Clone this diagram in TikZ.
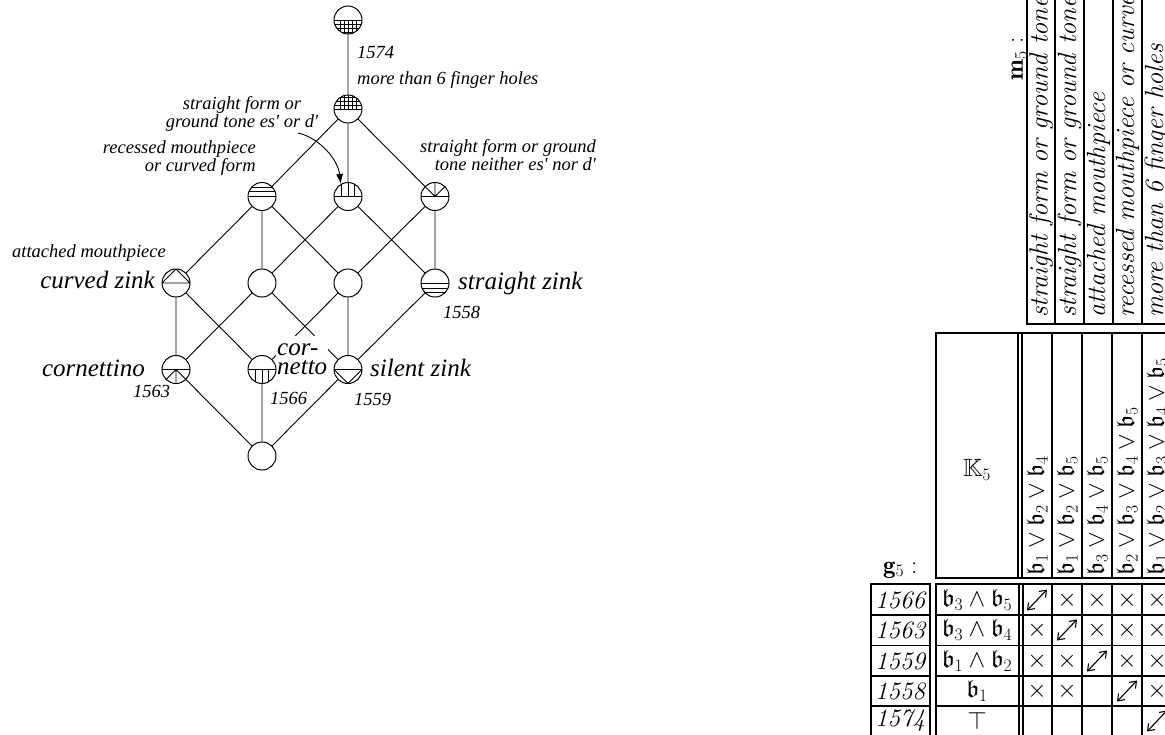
\documentclass[tikz,border=0pt]{standalone}
\usepackage{fix-cm}
\usepackage{amsmath,amssymb}
\usepackage{fontspec}
\newfontfamily\libser{Liberation Serif}
\usetikzlibrary{arrows.meta}
\pgfdeclarelayer{edgelayer}
\pgfdeclarelayer{labellayer}
\pgfsetlayers{edgelayer,labellayer,main}
\newcommand\inside[2]{\begin{scope}[shift={(#1.center)}]\clip (0,0) circle (14pt);#2\end{scope}}
\begin{document}
\begin{tikzpicture}[x=1pt,y=-1pt,
  cnode/.style={circle,draw,line width=1pt,minimum size=28pt,inner sep=0pt,fill=white},
  lnk/.style={line width=0.9pt},
  pat/.style={line width=0.9pt},
  lab/.style={font=\libser\itshape\fontsize{18.5}{16}\selectfont,inner sep=0pt},
  biglab/.style={font=\libser\itshape\fontsize{25}{19}\selectfont,inner sep=0pt},
  thk/.style={line width=2.2pt},
  thn/.style={line width=1.1pt},
  hdr/.style={rotate=90,anchor=west,inner sep=0pt,font=\itshape\fontsize{26.3}{30}\selectfont},
  fml/.style={rotate=90,anchor=west,inner sep=0pt,font=\fontsize{25}{30}\selectfont},
  cell/.style={inner sep=0pt,font=\fontsize{25}{30}\selectfont},
  yr/.style={inner sep=0pt,font=\itshape\fontsize{25}{30}\selectfont},
  dblarr/.style={line width=1.1pt,{Straight Barb[length=6pt,width=9pt]}-{Straight Barb[length=6pt,width=9pt]}}
]
\useasboundingbox (0,0) rectangle (1165,734);
\clip (0,0) rectangle (1165,734);
% ---------------- lattice nodes
\node[cnode] (top) at (348,20) {};
\node[cnode] (n2) at (348,109) {};
\node[cnode] (a) at (262,196.5) {};
\node[cnode] (b) at (348,196.5) {};
\node[cnode] (c) at (435,196.5) {};
\node[cnode] (cz) at (176,283) {};
\node[cnode] (m1) at (262,283) {};
\node[cnode] (m2) at (348,283) {};
\node[cnode] (sz) at (435,283) {};
\node[cnode] (ct) at (176,369.5) {};
\node[cnode] (co) at (262,369.5) {};
\node[cnode] (si) at (348,369.5) {};
\node[cnode] (bot) at (262,456) {};
% patterns
\inside{top}{\draw[pat] (-14,0)--(14,0);
  \foreach \v in {4,8,12} \draw[pat] (-14,\v)--(14,\v);
  \foreach \u in {-8,-4,0,4,8} \draw[pat] (\u,0)--(\u,14);}
\inside{n2}{\draw[pat] (-14,0)--(14,0);
  \foreach \v in {4,8,12} \draw[pat] (-14,-\v)--(14,-\v);
  \foreach \u in {-8,-4,0,4,8} \draw[pat] (\u,0)--(\u,-14);}
\inside{a}{\foreach \v in {0,5,9.5} \draw[pat] (-14,-\v)--(14,-\v);}
\inside{b}{\draw[pat] (-14,0)--(14,0);
  \foreach \u in {-6.5,0,6.5} \draw[pat] (\u,0)--(\u,-14);}
\inside{c}{\draw[pat] (-14,0)--(14,0) (0,0)--(0,-14) (0,0)--(-10,-10) (0,0)--(10,-10);}
\inside{cz}{\draw[pat] (-14,0)--(14,0) (-14,0)--(0,-14)--(14,0);}
\inside{sz}{\foreach \v in {0,5,9.5} \draw[pat] (-14,\v)--(14,\v);}
\inside{ct}{\draw[pat] (-14,0)--(14,0) (0,0)--(0,14) (0,0)--(-10,10) (0,0)--(10,10);}
\inside{co}{\draw[pat] (-14,0)--(14,0);
  \foreach \u in {-6.5,0,6.5} \draw[pat] (\u,0)--(\u,14);}
\inside{si}{\draw[pat] (-14,0)--(14,0) (-14,0)--(0,14)--(14,0);}
% edges
\begin{pgfonlayer}{edgelayer}
\draw[lnk] (top)--(n2) (n2)--(a) (n2)--(b) (n2)--(c)
  (a)--(cz) (a)--(m1) (a)--(m2) (b)--(m1) (b)--(sz) (c)--(m2) (c)--(sz)
  (cz)--(ct) (cz)--(co) (m1)--(ct) (m1)--(si) (m2)--(co) (m2)--(si) (sz)--(si)
  (ct)--(bot) (co)--(bot) (si)--(bot);
\end{pgfonlayer}
% labels
\node[lab,anchor=base west] (l1574) at (357,58) {1574};
\node[lab,anchor=base west] (lmore) at (357,84) {more than 6 finger holes};
\node[lab,anchor=north,align=center] (les) at (242,96) {straight form or\\ground tone es' or d'};
\node[lab,anchor=north east,align=right] (lrec) at (256,140) {recessed mouthpiece\\or curved form};
\node[lab,anchor=north east,align=right] (lnei) at (596,139) {straight form or ground\\tone neither es' nor d'};
\node[lab,anchor=base west] (latt) at (12,257) {attached mouthpiece};
\node[biglab,anchor=base east] (lcz) at (155,288) {curved zink};
\node[biglab,anchor=base west] (lsz) at (458,289) {straight zink};
\node[lab,anchor=base west] (l1558) at (443,318) {1558};
\node[biglab,anchor=base east] (lct) at (145,376) {cornettino};
\node[lab,anchor=base west] (l1563) at (133,397) {1563};
\begin{pgfonlayer}{labellayer}
\node[biglab,fill=white,anchor=north west,align=left,inner xsep=1pt,inner ysep=8pt] (lco) at (276,336) {cor-\\netto};
\end{pgfonlayer}
\node[lab,anchor=base west] (l1566) at (270,404) {1566};
\node[biglab,anchor=base west] (lsi) at (370,376) {silent zink};
\node[lab,anchor=base west] (l1559) at (354,405) {1559};
\coordinate (arrs) at (298,133);
\draw[lnk,-{Latex[length=10pt,width=7pt]}] (arrs) .. controls (320,138) and (338,160) .. (b.120);
% ---------------- table: attribute header
\draw[thk] (1027,-5) -- (1027,324) -- (1175,324);
\foreach \x in {1055,1084,1113,1142} \draw[thk] (\x,-5) -- (\x,324);
\node[hdr] (h1) at (1041,318) {straight form or ground tone es' or d'};
\node[hdr] (h2) at (1069.5,318) {straight form or ground tone neither es' nor d'};
\node[hdr] (h3) at (1098.5,318) {attached mouthpiece};
\node[hdr] (h4) at (1127.5,318) {recessed mouthpiece or curved form};
\node[hdr] (h5) at (1156.5,318) {more than 6 finger holes};
\node[cell,rotate=90] (m5) at (1019,59) {$\mathbf{m}_5:$};
% K5 box
\draw[thk] (936,333) rectangle (1180,578);
\draw[thn] (1018,333) -- (1018,578) (1022,333) -- (1022,578);
\draw[thn] (1052,333) -- (1052,578) (1112,333) -- (1112,578);
\draw[thk] (1082,333) -- (1082,578) (1142,333) -- (1142,578);
\node[cell] (k5) at (977,470) {$\mathbb{K}_5$};
\node[cell,anchor=base west] (g5) at (883,573) {$\mathbf{g}_5:$};
\node[fml] (f1) at (1037,576) {$\mathfrak{b}_1\vee\mathfrak{b}_2\vee\mathfrak{b}_4$};
\node[fml] (f2) at (1067,576) {$\mathfrak{b}_1\vee\mathfrak{b}_2\vee\mathfrak{b}_5$};
\node[fml] (f3) at (1097,576) {$\mathfrak{b}_3\vee\mathfrak{b}_4\vee\mathfrak{b}_5$};
\node[fml] (f4) at (1127,576) {$\mathfrak{b}_2\vee\mathfrak{b}_3\vee\mathfrak{b}_4\vee\mathfrak{b}_5$};
\node[fml] (f5) at (1157,576) {$\mathfrak{b}_1\vee\mathfrak{b}_2\vee\mathfrak{b}_3\vee\mathfrak{b}_4\vee\mathfrak{b}_5$};
% object table
\draw[thk] (871,584) rectangle (930,760);
\foreach \y in {615,645.5,676,706} \draw[thn] (871,\y) -- (930,\y);
\draw[thk] (936,584) rectangle (1180,760);
\draw[thn] (1019,584) -- (1019,760) (1023,584) -- (1023,760);
\draw[thn] (1052,584) -- (1052,760) (1112,584) -- (1112,760);
\draw[thk] (1082,584) -- (1082,760) (1142,584) -- (1142,760);
\foreach \y in {615,645.5,676,706} \draw[thn] (936,\y) -- (1180,\y);
\node[yr] (y1) at (900,600) {1566};
\node[yr] (y2) at (900,630) {1563};
\node[yr] (y3) at (900,661) {1559};
\node[yr] (y4) at (900,691) {1558};
\node[yr] (y5) at (900,721) {1574};
\node[cell] (r1) at (977,600) {$\mathfrak{b}_3\wedge\mathfrak{b}_5$};
\node[cell] (r2) at (977,630) {$\mathfrak{b}_3\wedge\mathfrak{b}_4$};
\node[cell] (r3) at (977,661) {$\mathfrak{b}_1\wedge\mathfrak{b}_2$};
\node[cell] (r4) at (977,691) {$\mathfrak{b}_1$};
\node[cell] (r5) at (977,721) {$\top$};
% crosses
\foreach \x/\y in {1067/600,1097/600,1127/600,1157/600,
                   1037/630,1097/630,1127/630,1157/630,
                   1037/661,1067/661,1127/661,1157/661,
                   1037/691,1067/691,1157/691}
  \node[cell] at (\x,\y) {$\times$};
% double arrows
\foreach \x/\y [count=\i] in {1037/600,1067/630,1097/661,1127/691,1157/721}{
  \coordinate (as\i) at (\x-10,\y+10.5);
  \coordinate (ae\i) at (\x+10,\y-10.5);
  \draw[dblarr] (as\i) -- (ae\i);}
\end{tikzpicture}
\end{document}
